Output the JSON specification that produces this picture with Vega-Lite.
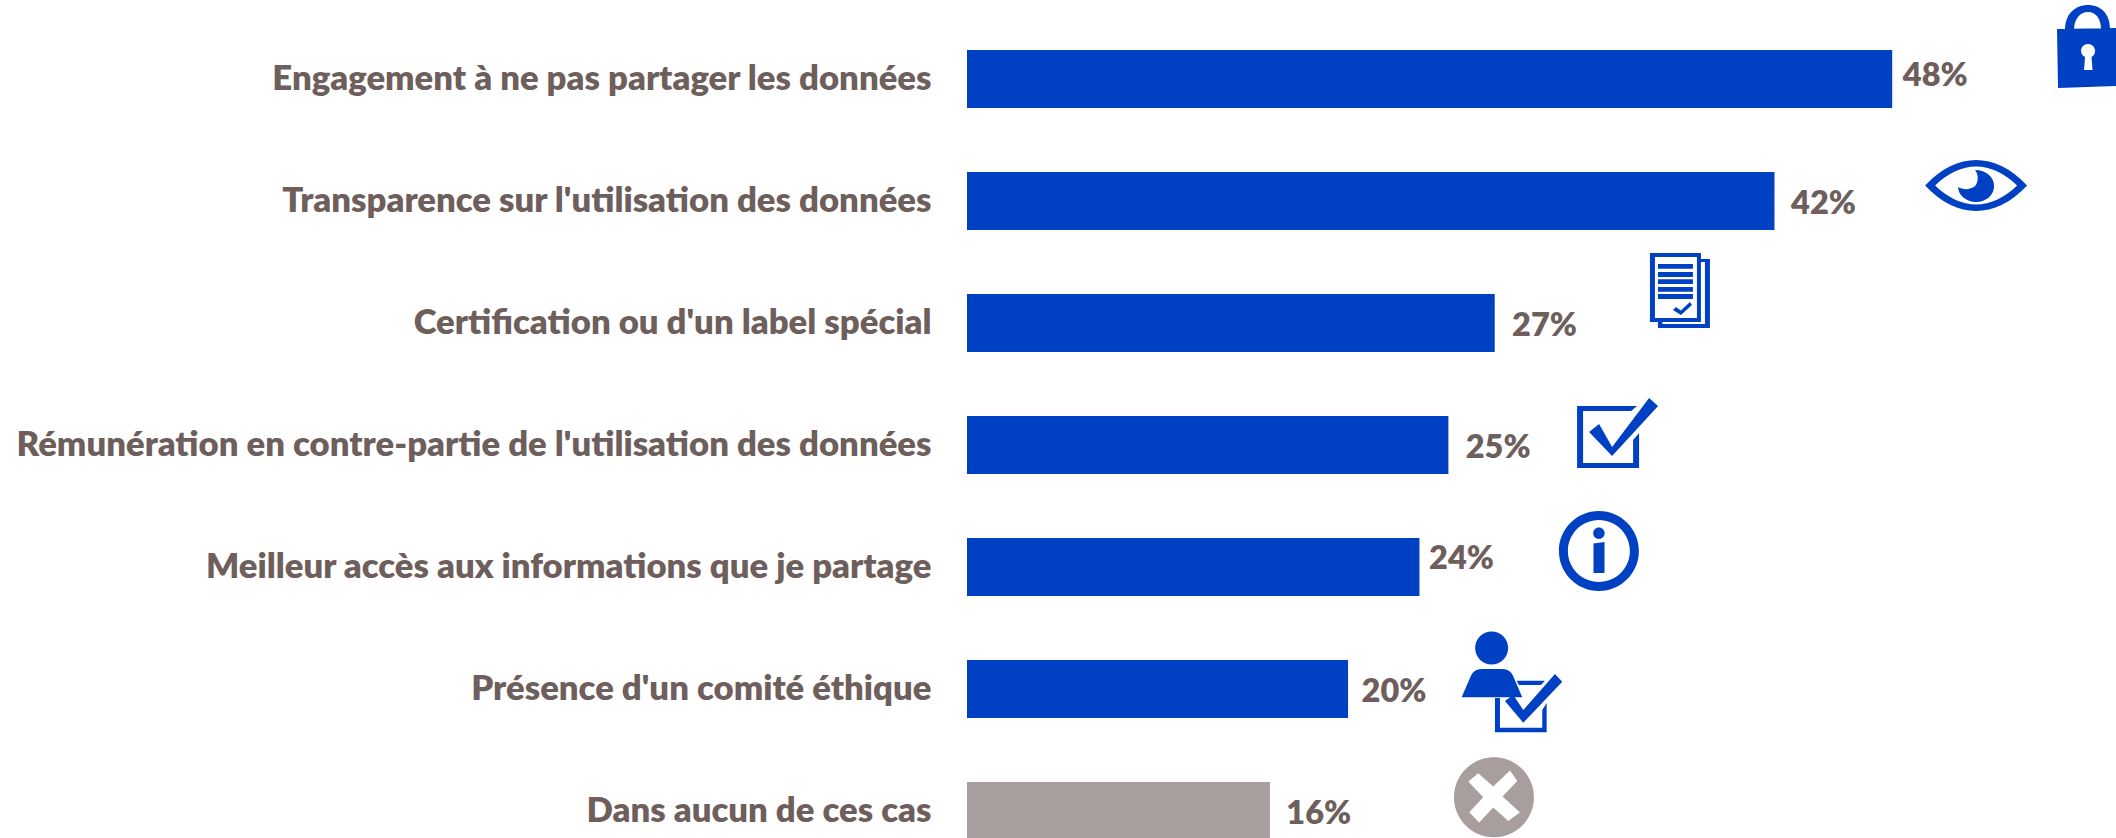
{
"$schema":"https://vega.github.io/schema/vega-lite/v6.json",
"width":1149,"height":854,
"autosize":{"type":"none"},
"padding":{"left":967,"top":18,"right":0,"bottom":0},
"background":"white",
"config":{"view":{"stroke":null}},
"data":{"values":[
{"critere":"Engagement à ne pas partager les données","value":47.95,"label":"48%","labelAt":48.5,"icon":"cadenas","iconAt":58.1,"kind":"critere"},
{"critere":"Transparence sur l'utilisation des données","value":41.85,"label":"42%","labelAt":42.71,"icon":"oeil","iconAt":52.3,"kind":"critere"},
{"critere":"Certification ou d'un label spécial","value":27.35,"label":"27%","labelAt":28.25,"icon":"document","iconAt":36.95,"kind":"critere"},
{"critere":"Rémunération en contre-partie de l'utilisation des données","value":24.95,"label":"25%","labelAt":25.85,"icon":"case","iconAt":33.33,"kind":"critere"},
{"critere":"Meilleur accès aux informations que je partage","value":23.45,"label":"24%","labelAt":23.95,"icon":"info","iconAt":32.75,"kind":"critere"},
{"critere":"Présence d'un comité éthique","value":19.75,"label":"20%","labelAt":20.45,"icon":"personne","iconAt":28.14,"kind":"critere"},
{"critere":"Dans aucun de ces cas","value":15.7,"label":"16%","labelAt":16.55,"icon":"croix","iconAt":27.31,"kind":"aucun"}
]},
"encoding":{
"y":{"field":"critere","type":"nominal","sort":null,"title":null,
"scale":{"paddingInner":0.5246,"paddingOuter":0.2623},
"axis":{"domain":false,"ticks":false,"labelPadding":36,"labelLimit":1200,"labelOffset":1,"labelFont":"Lato","labelFontWeight":800,"labelFontSize":34.7,"labelColor":"#6E5F5C"}}
},
"layer":[
{"mark":{"type":"bar"},
"encoding":{
"x":{"field":"value","type":"quantitative","title":null,"scale":{"domain":[0,59.55],"nice":false},"axis":null},
"color":{"field":"kind","type":"nominal","legend":null,"scale":{"domain":["critere","aucun"],"range":["#0041C4","#A99E9E"]}}
}},
{"transform":[{"filter":"datum.label === '48%'"}],
"mark":{"type":"text","align":"left","baseline":"middle","dy":-3,"font":"Lato","fontWeight":800,"fontSize":32.5,"color":"#6E5F5C"},
"encoding":{"x":{"field":"labelAt","type":"quantitative"},"text":{"field":"label"}}},
{"transform":[{"filter":"datum.label === '24%'"}],
"mark":{"type":"text","align":"left","baseline":"middle","dy":-8,"font":"Lato","fontWeight":800,"fontSize":32.5,"color":"#6E5F5C"},
"encoding":{"x":{"field":"labelAt","type":"quantitative"},"text":{"field":"label"}}},
{"transform":[{"filter":"datum.label !== '48%' && datum.label !== '24%'"}],
"mark":{"type":"text","align":"left","baseline":"middle","dy":3,"font":"Lato","fontWeight":800,"fontSize":32.5,"color":"#6E5F5C"},
"encoding":{"x":{"field":"labelAt","type":"quantitative"},"text":{"field":"label"}}},
{"mark":{"type":"point","filled":true,"size":4,"opacity":1,"strokeWidth":0},
"encoding":{
"x":{"field":"iconAt","type":"quantitative"},
"color":{"field":"kind","type":"nominal","legend":null},
"shape":{"field":"icon","type":"nominal","legend":null,"scale":{
"domain":["cadenas","oeil","document","case","info","personne","croix"],
"range":[
"M -31 -50 L 31 -51 L 31 7 L -30 9 Z M -23 -49 C -23 -66 -12 -74 0 -74 C 12 -74 22 -66 22 -50 L 13 -50 C 13 -60 8 -67 0 -67 C -8 -67 -14 -60 -14 -49 Z M 0 -35 C -4 -35 -7 -32 -7 -28 C -7 -25 -5 -23 -3 -22 L -4 -9 L 4.5 -9 L 3.5 -22 C 5.5 -23 7 -25 7 -28 C 7 -32 4 -35 0 -35 Z",
"M -51 -15.5 C -35 -33 -17 -41 0 -41 C 17 -41 35 -33 51 -15.5 C 35 2 17 10 0 10 C -17 10 -35 2 -51 -15.5 Z M -41 -15.5 C -28 -3 -14 3.5 0 3.5 C 14 3.5 28 -3 41 -15.5 C 28 -28 14 -34.5 0 -34.5 C -14 -34.5 -28 -28 -41 -15.5 Z M -1 -31 C 10 -31 18 -24 18 -15 C 18 -6 10 1 0 1 C -10 1 -18 -6 -18 -14 C -13 -11 -6 -11 -1 -15 C 3 -20 2 -27 -1 -31 Z",
"M -30 -70 L 21 -70 L 21 -64 L 30 -64 L 30 5 L -22 5 L -22 -1 L -30 -1 Z M -25 -66 L -25 -5 L 17 -5 L 17 -66 Z M 21 -61 L 21 -1 L -17.5 -1 L -17.5 1 L 25 1 L 25 -61 Z M -22 -59 L 13 -59 L 13 -54.3 L -22 -54.3 Z M -22 -51 L 13 -51 L 13 -46 L -22 -46 Z M -22 -43.7 L 13 -43.7 L 13 -39 L -22 -39 Z M -22 -36 L 13 -36 L 13 -31.3 L -22 -31.3 Z M -22 -29 L 13 -29 L 13 -24 L -22 -24 Z M -7 -13 L -4 -16 L 1 -12.5 L 10 -21 L 12 -18 L 1 -8 Z",
"M -33 -39 L 27 -39 L 21 -34 L -27 -34 L -27 18 L 23 18 L 23 -5 L 29 -12 L 29 23 L -33 23 Z M -21 -13 L -11 -21 L 2 2 L 39 -47 L 48 -39 L 2 11 Z",
"M -40 -16 C -40 -38.1 -22.1 -56 0 -56 C 22.1 -56 40 -38.1 40 -16 C 40 6.1 22.1 24 0 24 C -22.1 24 -40 6.1 -40 -16 Z M -31 -16 C -31 1.1 -17.1 15 0 15 C 17.1 15 31 1.1 31 -16 C 31 -33.1 17.1 -47 0 -47 C -17.1 -47 -31 -33.1 -31 -16 Z M -5.7 -33.7 C -5.7 -36.85 -3.15 -39.4 0 -39.4 C 3.15 -39.4 5.7 -36.85 5.7 -33.7 C 5.7 -30.55 3.15 -28 0 -28 C -3.15 -28 -5.7 -30.55 -5.7 -33.7 Z M -5.4 -23.5 L 5.6 -25 L 5.6 6 L -5.4 6 Z",
"M -34.8 -41 C -34.8 -50.1 -27.4 -57.5 -18.3 -57.5 C -9.2 -57.5 -1.8 -50.1 -1.8 -41 C -1.8 -31.9 -9.2 -24.5 -18.3 -24.5 C -27.4 -24.5 -34.8 -31.9 -34.8 -41 Z M -48.3 8.3 L -40 -11 C -38 -17 -34 -20 -28 -20 L -8 -20 C -2 -20 2 -17 4 -11 L 12.3 8.3 Z M 6.7 -8.3 L 35 -8.3 L 31 -4 L 9 -4 Z M -15 9 L -10 9 L -10 38.7 L 32.3 38.7 L 32.3 21 L 36.7 14 L 36.7 43.3 L -15 43.3 Z M -5 12 L 3.3 6 L 13.3 21 L 45 -15 L 52.3 -7.3 L 13.3 33.7 Z",
"M -40 -13.7 C -40 -35.8 -22.1 -53.7 0 -53.7 C 22.1 -53.7 40 -35.8 40 -13.7 C 40 8.4 22.1 26.3 0 26.3 C -22.1 26.3 -40 8.4 -40 -13.7 Z M -10.7 -13.7 L -24.7 1.3 L -14.7 11.6 L -0.7 -3.4 L 14.3 10 L 26 1.6 L 8.7 -14.4 L 23.3 -30 L 16 -40.4 L -0.7 -24.4 L -15.7 -37.7 L -25.7 -29.4 Z"
]}}
}}
]
}
